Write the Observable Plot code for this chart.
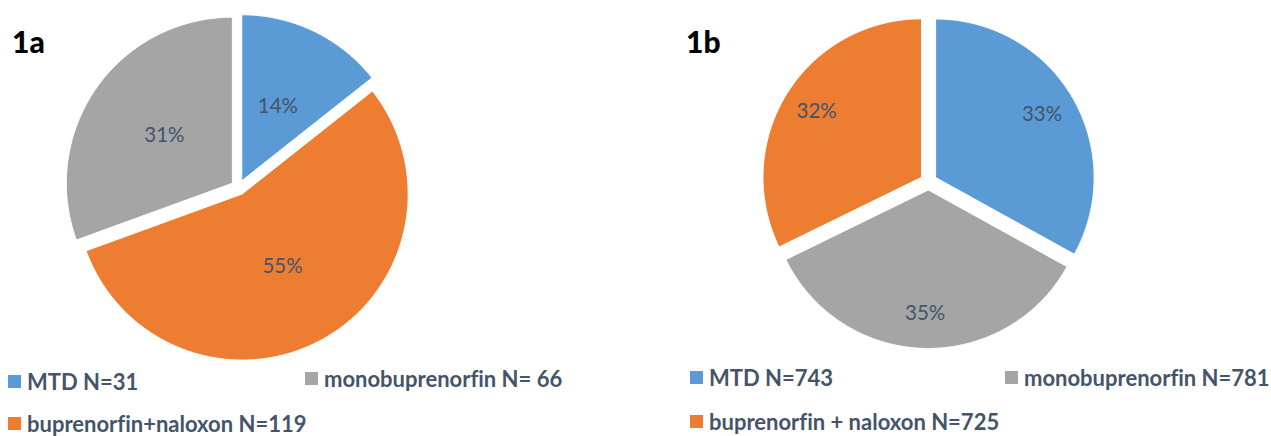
<!DOCTYPE html>
<html>
<head>
<meta charset="utf-8">
<script src="https://cdn.jsdelivr.net/npm/d3@7"></script>
<script src="https://cdn.jsdelivr.net/npm/@observablehq/plot@0.6"></script>
<style>
  html, body { margin: 0; padding: 0; background: #fff; }
  #page { position: relative; width: 1271px; height: 436px; overflow: hidden; background: #fff; font-family: Lato, "Open Sans", sans-serif; font-variant-ligatures: none; }
  .pane { position: absolute; top: 0; }
  .title { position: absolute; font-weight: 900; font-size: 30px; line-height: 1; color: #000; }
  .leg { position: absolute; display: flex; align-items: center; font-weight: 700; font-size: 22px; line-height: 1; color: #44546A; white-space: nowrap; }
  .sw { width: 13px; height: 13px; margin-right: 6px; flex: none; }
</style>
</head>
<body>
<div id="page"></div>
<script>
// ---- data ----
const colorCats = ["MTD", "monobuprenorfin", "buprenorfin+naloxon"];
const colorVals = ["#5B9BD5", "#A5A5A5", "#ED7D31"];

// chart 1a (slice order, clockwise from 12 o'clock)
const catsA = ["MTD", "buprenorfin+naloxon", "monobuprenorfin"];
const countsA = [31, 119, 66];
const legendCatsA = ["MTD", "monobuprenorfin", "buprenorfin+naloxon"];
const legendTextA = ["MTD N=31", "monobuprenorfin N= 66", "buprenorfin+naloxon N=119"];

// chart 1b
const catsB = ["MTD", "monobuprenorfin", "buprenorfin+naloxon"];
const countsB = [743, 781, 725];
const legendCatsB = ["MTD", "monobuprenorfin", "buprenorfin+naloxon"];
const legendTextB = ["MTD N=743", "monobuprenorfin N=781", "buprenorfin + naloxon N=725"];

const titles = ["1a", "1b"];

function pieChart(cats, counts, o) {
  const rows = cats.map((c, i) => ({cat: c, n: counts[i]}));
  const arcs = d3.pie().sort(null).value(d => d.n)(rows);
  const total = d3.sum(counts);
  const pts = [], labels = [];
  arcs.forEach(a => {
    const cat = a.data.cat;
    const mid = (a.startAngle + a.endAngle) / 2;
    const ox = o.explode * Math.sin(mid), oy = o.explode * Math.cos(mid);
    pts.push({cat, x: ox, y: oy});
    const steps = Math.max(2, Math.ceil((a.endAngle - a.startAngle) / (Math.PI / 360)));
    for (let k = 0; k <= steps; k++) {
      const t = a.startAngle + (a.endAngle - a.startAngle) * k / steps;
      pts.push({cat, x: ox + Math.sin(t), y: oy + Math.cos(t)});
    }
    pts.push({cat, x: ox, y: oy});
    labels.push({
      x: ox + o.labelR * Math.sin(mid),
      y: oy + o.labelR * Math.cos(mid),
      text: Math.round(100 * a.data.n / total) + "%"
    });
  });
  return Plot.plot({
    width: o.width, height: o.height,
    marginLeft: o.ml, marginRight: o.mr, marginTop: o.mt, marginBottom: o.mb,
    style: {fontFamily: "Lato, sans-serif", background: "transparent", overflow: "visible"},
    x: {domain: [-1, 1], axis: null},
    y: {domain: [-1, 1], axis: null},
    color: {domain: colorCats, range: colorVals},
    marks: [
      Plot.line(pts, {x: "x", y: "y", z: "cat", fill: "cat", stroke: "white", strokeWidth: 1}),
      Plot.text(labels, {x: "x", y: "y", text: "text", fill: "#44546A", fontSize: 20.5, textAnchor: "middle", lineAnchor: "middle"})
    ]
  });
}

const page = document.getElementById("page");

function addPane(left, width, plot) {
  const d = document.createElement("div");
  d.className = "pane";
  d.style.left = left + "px";
  d.style.width = width + "px";
  d.appendChild(plot);
  page.appendChild(d);
}

addPane(0, 480, pieChart(catsA, countsA, {width: 480, height: 365, ml: 72, mr: 76, mt: 21, mb: 12, explode: 0.045, labelR: 0.5}));
addPane(640, 631, pieChart(catsB, countsB, {width: 631, height: 365, ml: 129.5, mr: 184.5, mt: 22.7, mb: 25.3, explode: 0.052, labelR: 0.78}));

// titles
[[12, 26], [686, 26]].forEach((p, i) => {
  const t = document.createElement("div");
  t.className = "title";
  t.style.left = p[0] + "px"; t.style.top = p[1] + "px";
  t.textContent = titles[i];
  page.appendChild(t);
});

// legends
const colorOf = c => colorVals[colorCats.indexOf(c)];
function addLegend(cats, texts, positions) {
  cats.forEach((c, i) => {
    const item = document.createElement("div");
    item.className = "leg";
    item.style.left = positions[i][0] + "px";
    item.style.top = positions[i][1] + "px";
    const sw = document.createElement("span");
    sw.className = "sw";
    sw.style.background = colorOf(c);
    const tx = document.createElement("span");
    tx.textContent = texts[i];
    item.appendChild(sw); item.appendChild(tx);
    page.appendChild(item);
  });
}
addLegend(legendCatsA, legendTextA, [[8, 370.5], [305, 367.5], [8, 412.5]]);
addLegend(legendCatsB, legendTextB, [[690, 366.5], [1005, 366.5], [690, 410.5]]);
</script>
</body>
</html>
